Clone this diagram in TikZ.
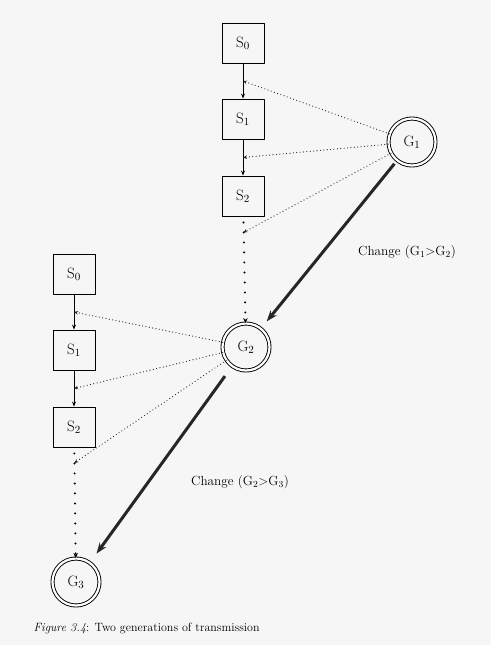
\documentclass[tikz,border=0pt]{standalone}
\usetikzlibrary{calc,arrows.meta}

\begin{document}
\begin{tikzpicture}[x=1pt,y=-1pt,>=Stealth,line join=round,line cap=round,
  state/.style={draw,line width=0.9pt,minimum width=42pt,minimum height=40pt,inner sep=0pt,font=\fontsize{15}{17}\selectfont},
  gen/.style={circle,draw,double,double distance=2.2pt,line width=0.9pt,minimum size=47pt,inner sep=0pt,font=\fontsize{15}{17}\selectfont},
  link/.style={-{Stealth[length=5pt,width=4pt]},line width=0.8pt},
  feed/.style={-{Stealth[length=4pt,width=3.5pt]},line width=1.2pt,dash pattern=on 0pt off 3.4pt,black!85},
  trail/.style={-{Stealth[length=5pt,width=4.5pt]},line width=2.2pt,dash pattern=on 0pt off 10pt,shorten <=6pt},
  change/.style={-{Stealth[length=11pt,width=8pt]},line width=3pt,black!85,line cap=butt},
  lbl/.style={font=\fontsize{13.2}{15}\selectfont}]
  \fill[gray!7] (0,0) rectangle (491,645);
  \useasboundingbox (0,0) rectangle (491,645);

  \node[state] (S0a) at (243,43) {S$_0$};
  \node[state] (S1a) at (243,119) {S$_1$};
  \node[state] (S2a) at (243,196) {S$_2$};
  \node[gen] (G1) at (412,142) {G$_1$};
  \node[gen] (G2) at (246,347) {G$_2$};

  \node[state] (S0b) at (74,274) {S$_0$};
  \node[state] (S1b) at (74,350) {S$_1$};
  \node[state] (S2b) at (74,427) {S$_2$};
  \node[gen] (G3) at (76,582) {G$_3$};

  \coordinate (a01) at ($(S0a.south)!0.5!(S1a.north)$);
  \coordinate (a12) at ($(S1a.south)!0.5!(S2a.north)$);
  \coordinate (a2g) at ($(S2a.south)!0.15!(G2.north)$);
  \coordinate (b01) at ($(S0b.south)!0.5!(S1b.north)$);
  \coordinate (b12) at ($(S1b.south)!0.5!(S2b.north)$);
  \coordinate (b2g) at ($(S2b.south)!0.14!(G3.north)$);

  \draw[link] (S0a) -- (S1a);
  \draw[link] (S1a) -- (S2a);
  \draw[trail] (S2a) -- (G2);
  \draw[feed] (G1) -- (a01);
  \draw[feed] (G1) -- (a12);
  \draw[feed] (G1) -- (a2g);

  \draw[link] (S0b) -- (S1b);
  \draw[link] (S1b) -- (S2b);
  \draw[trail] (S2b) -- (G3);
  \draw[feed] (G2) -- (b01);
  \draw[feed] (G2) -- (b12);
  \draw[feed] (G2) -- (b2g);

  \draw[change,shorten <=4pt,shorten >=9pt] (G1) -- (G2);
  \draw[change,shorten <=12pt,shorten >=11pt] (G2) -- (G3);

  \node[lbl] (c12) at (407,252) {Change (G\textsubscript{1}>G\textsubscript{2})};
  \node[lbl] (c23) at (240,482) {Change (G\textsubscript{2}>G\textsubscript{3})};

  \node[anchor=west,font=\fontsize{12}{14}\selectfont] (cap) at (30,628) {\textit{Figure 3.4}: Two generations of transmission};
\end{tikzpicture}
\end{document}
